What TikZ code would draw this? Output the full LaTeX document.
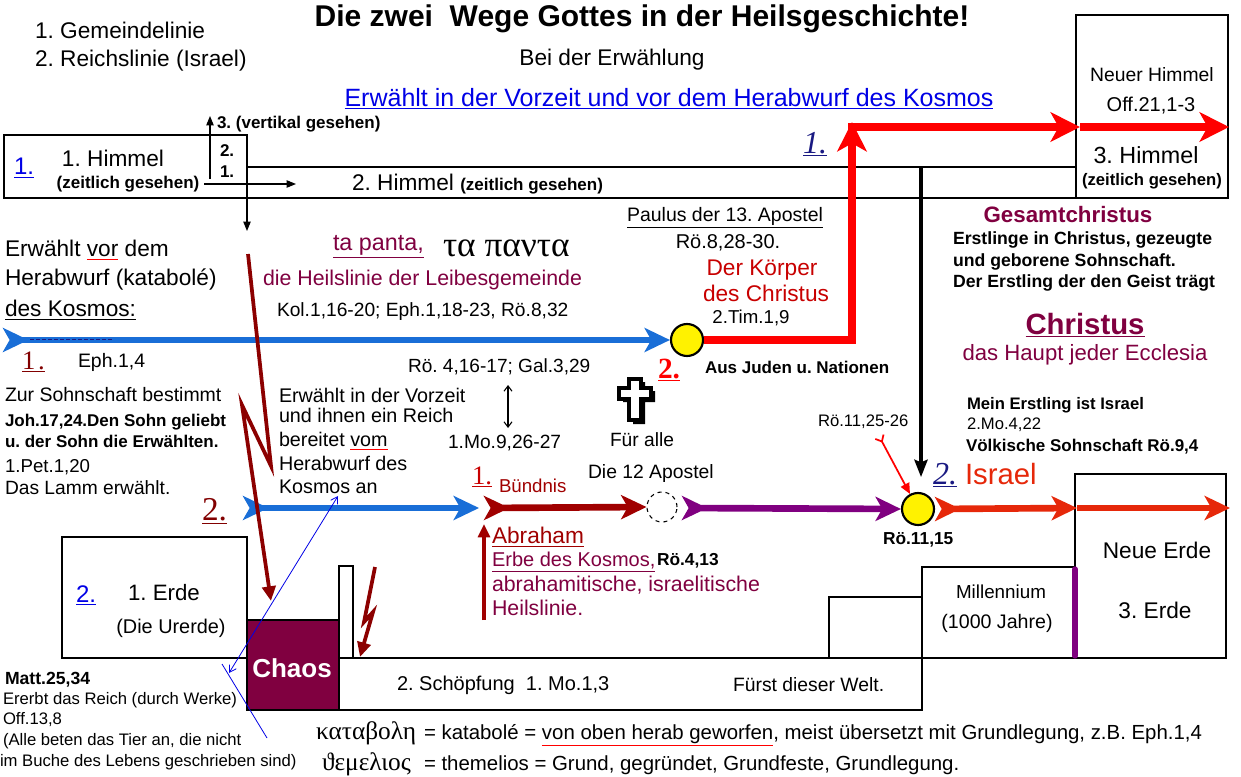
\documentclass[tikz,border=0pt]{standalone}
\usepackage{fontspec}
\setmainfont{Liberation Sans}
\newfontfamily\grk{Liberation Serif}
\usetikzlibrary{arrows.meta}
\definecolor{thickblue}{RGB}{25,110,215}
\definecolor{linkblue}{RGB}{0,0,230}
\definecolor{numblue}{RGB}{25,25,130}
\definecolor{gred}{RGB}{255,0,0}
\definecolor{dred}{RGB}{160,0,0}
\definecolor{ltred}{RGB}{140,0,0}
\definecolor{mymaroon}{RGB}{128,0,64}
\definecolor{purp}{RGB}{128,0,128}
\definecolor{isred}{RGB}{230,40,10}
\definecolor{kred}{RGB}{200,0,0}
\definecolor{numred}{RGB}{130,0,0}
\newcommand\fz[1]{\fontsize{#1}{#1}\selectfont}
\newcommand\redunder[1]{{\color{red}\underline{\color{black}#1}}}
\tikzset{
  BlueTip/.tip={Stealth[length=19pt,width=18pt,inset=5pt]},
  RedTip/.tip={Stealth[length=22pt,width=22pt,inset=6pt]},
}
\frenchspacing
\begin{document}
\frenchspacing
\begin{tikzpicture}[x=0.75pt,y=-0.75pt,
  tx/.style={inner sep=0pt,outer sep=0pt,anchor=west},
  tc/.style={inner sep=0pt,outer sep=0pt},
  frame/.style={draw=black,line width=1.4pt},
  lframe/.style={draw=black,line width=0.9pt},
  smalltip/.style={-{Triangle[length=7pt,width=5.5pt]}},
  thickline/.style={line width=5pt},
  bolt/.style={draw=ltred,line width=2.8pt,line join=miter,-{Triangle[length=11pt,width=10pt]}},
  circ/.style={circle,draw=black,line width=1.6pt,fill=yellow,minimum size=24pt,inner sep=0pt},
]
\useasboundingbox (0,0) rectangle (1241,777);
\fill[white] (0,0) rectangle (1241,777);

% ---------- boxes ----------
\draw[frame] (4,135) rectangle (247,198);
\draw[frame] (247,167) rectangle (1076,198);
\draw[lframe] (1076,15) rectangle (1228,198);
\draw[frame] (62,537) rectangle (247,658);
\filldraw[fill=mymaroon,draw=black,line width=1.4pt] (247,620) rectangle (339,710);
\draw[frame] (339,566) rectangle (353,658);
\draw[lframe] (339,658) rectangle (922,710);
\draw[lframe] (922,567) rectangle (1075,658);
\draw[lframe] (1075,474) rectangle (1226,658);
\draw[lframe] (829,658) -- (829,597) -- (922,597);
\draw[purp,line width=4pt,line cap=round] (1075,569) -- (1075,656);

% ---------- circles ----------
\node[circ] (c1) at (687,340) {};
\node[circ] (c2) at (918,509) {};
\node[circle,draw=black,dashed,line width=0.8pt,minimum size=22.5pt,inner sep=0pt] (dc) at (662,507) {};

% ---------- thin arrows top left ----------
\coordinate (ha1) at (204,184); \coordinate (ha2) at (296,184);
\draw[black,line width=0.8pt,smalltip] (ha1) -- (ha2);
\coordinate (va1) at (210,179); \coordinate (va2) at (210,116);
\draw[black,line width=0.8pt,smalltip] (va1) -- (va2);
\coordinate (da1) at (247,198); \coordinate (da2) at (247,231);
\draw[black,line width=0.8pt,smalltip] (da1) -- (da2);

% ---------- thick lines ----------
\coordinate (b1s) at (3,340);
\draw[thickblue,thickline,{BlueTip[reversed]}-{BlueTip}] (b1s) -- (c1.west);
\draw[numblue,line width=0.6pt,dash pattern=on 3pt off 1.5pt] (30,339) -- (112,339);

\coordinate (rc) at (852,340); \coordinate (rt) at (852,122);
\draw[gred,line width=6pt,-{RedTip}] (c1.east) -- (rc) -- (rt);
\coordinate (rh0) at (848,127); \coordinate (rh1) at (1080,127); \coordinate (rh2) at (1229,127);
\draw[gred,line width=6pt,-{RedTip}] (rh0) -- (rh1);
\draw[gred,line width=6pt,-{RedTip}] (rh1) -- (rh2);

\coordinate (b2s) at (243,508); \coordinate (b2e) at (479,508);
\draw[thickblue,thickline,{BlueTip[reversed]}-{BlueTip}] (b2s) -- (b2e);
\coordinate (d1s) at (484,508);
\draw[dred,thickline,{BlueTip[reversed]}-{BlueTip}] (d1s) -- (dc.west);
\coordinate (p1s) at (682,508);
\draw[purp,thickline,{BlueTip[reversed]}-{BlueTip}] (p1s) -- (c2.west);
\coordinate (i1) at (1077,508); \coordinate (i2) at (1230,508);
\draw[isred,thickline,{BlueTip[reversed]}-{BlueTip}] (c2.east) -- (i1);
\draw[isred,thickline,-{BlueTip}] (i1) -- (i2);

\coordinate (vk1) at (921,167); \coordinate (vk2) at (921,477);
\draw[black,line width=2.3pt,-{Stealth[length=13pt,width=10pt,inset=2pt]}] (vk1) -- (vk2);

\coordinate (rr1) at (879,436);
\draw[red,line width=1.3pt,{Straight Barb[reversed,length=4pt,width=7pt]}-{Triangle[length=8pt,width=7pt]}] (rr1) -- (c2);

% ---------- lightning ----------
\draw[bolt] (248,254) -- (271,466) -- (242,405) -- (271,601);
\draw[bolt] (375,567) -- (364,622) -- (373,612) -- (360,657);
\draw[dred,line width=2.3pt,-{Triangle[length=10pt,width=9pt]}] (484,620) -- (484,524);

% ---------- blue thin ----------
\draw[linkblue,line width=0.6pt,{Straight Barb[length=5pt,width=6pt]}-{Straight Barb[length=5pt,width=6pt]}] (229,673) -- (338,496);
\draw[linkblue,line width=0.6pt] (222,664) -- (267,738);

% ---------- double arrow ----------
\coordinate (dd1) at (508,385); \coordinate (dd2) at (508,428);
\draw[black,line width=0.8pt,{Straight Barb[length=4pt,width=6pt]}-{Straight Barb[length=4pt,width=6pt]}] (dd1) -- (dd2);

% ---------- cross ----------
\begin{scope}[shift={(635,399)}]
\fill[black] (-2,-17) -- (10,-17) -- (10,-8) -- (20,-8) -- (20,3) -- (10,3) -- (10,25) -- (-2,25) -- (-2,3) -- (-12,3) -- (-12,-8) -- (-2,-8) -- cycle;
\filldraw[fill=white,draw=black,line width=3pt] (-6,-20) -- (6,-20) -- (6,-11) -- (16,-11) -- (16,0) -- (6,0) -- (6,21) -- (-6,21) -- (-6,0) -- (-16,0) -- (-16,-11) -- (-6,-11) -- cycle;
\end{scope}

% ---------- texts: top ----------
\node[tx] (gem) at (35,30) {\fz{17}1. Gemeindelinie};
\node[tx] (reich) at (35,61) {\fz{17}2. Reichslinie (Israel)};
\node[tc] (title) at (642,19) {\fz{22.5}\bfseries Die zwei\ \ Wege Gottes in der Heilsgeschichte!};
\node[tc] (bei) at (612,60) {\fz{17}Bei der Erwählung};
\node[tc,text=linkblue] (erw) at (669,99) {\fz{18.75}\underline{Erwählt in der Vorzeit und vor dem Herabwurf des Kosmos}};

\node[tx,text=linkblue] (n1h) at (14,168) {\fz{18}\underline{1.}};
\node[tc] (h1) at (113,158) {\fz{17}1. Himmel};
\node[tc] (h1z) at (128,184) {\fz{12.75}\bfseries (zeitlich gesehen)};
\node[tx] (v3) at (217,124) {\fz{12.75}\bfseries 3. (vertikal gesehen)};
\node[tx] (v2) at (220,151) {\fz{12.75}\bfseries 2.};
\node[tx] (v1) at (220,172) {\fz{12.75}\bfseries 1.};
\node[tx] (h2) at (352,184) {\fz{17}2. Himmel {\fz{12.75}\bfseries (zeitlich gesehen)}};

\node[tc] (nh) at (1152,75) {\fz{14.5}Neuer Himmel};
\node[tc] (off) at (1151,106) {\fz{15}Off.21,1-3};
\node[tc] (h3) at (1146,155) {\fz{17.5}3. Himmel};
\node[tc] (h3z) at (1152,181) {\fz{12.5}\bfseries (zeitlich gesehen)};

% ---------- Gemeinde ----------
\node[tx,text=numblue] (g1) at (803,144) {\fz{24}\grk\itshape\underline{1.}};
\node[tc] (paul) at (725,218) {\fz{14.6}\underline{Paulus der 13. Apostel}};
\node[tc] (ro8) at (728,243) {\fz{15}Rö.8,28-30.};
\node[tc,text=kred] (kor1) at (762,270) {\fz{17}Der Körper};
\node[tc,text=kred] (kor2) at (766,293) {\fz{17}des Christus};
\node[tc] (tim) at (751,318) {\fz{14}2.Tim.1,9};
\node[tx,text=mymaroon] (tap) at (333,247) {\fz{17.5}\underline{ta panta,}};
\node[tx] (tagr) at (443,248) {\fz{26.5}\grk τα παντα};
\node[tx,text=mymaroon] (heil) at (263,280) {\fz{16}die Heilslinie der Leibesgemeinde};
\node[tx] (kol) at (277,312) {\fz{14.4}Kol.1,16-20; Eph.1,18-23, Rö.8,32};

% ---------- left ----------
\node[tx] (ev1) at (5,250) {\fz{17}Erwählt \redunder{vor} dem};
\node[tx] (ev2) at (5,280) {\fz{17}Herabwurf (katabolé)};
\node[tx] (ev3) at (5,310) {\fz{17}\underline{des Kosmos:}};
\node[tx,text=numred] (l1) at (22,362) {\fz{20}\grk\underline{1\kern2pt.}};
\node[tx] (eph) at (78,362) {\fz{14.6}Eph.1,4};
\node[tx] (zur) at (5,395) {\fz{14.6}Zur Sohnschaft bestimmt};
\node[tx] (joh1) at (5,422) {\fz{12.75}\bfseries Joh.17,24.Den Sohn geliebt};
\node[tx] (joh2) at (5,441) {\fz{12.75}\bfseries u. der Sohn die Erwählten.};
\node[tx] (pet) at (5,467) {\fz{14}1.Pet.1,20};
\node[tx] (lamm) at (5,488) {\fz{14.4}Das Lamm erwählt.};
\node[tx,text=numred] (l2) at (202,511) {\fz{25}\grk\underline{2.}};

% ---------- middle ----------
\node[tx] (ro4) at (408,367) {\fz{14.3}Rö. 4,16-17; Gal.3,29};
\node[tx] (ev4) at (279,395) {\fz{14.8}Erwählt in der Vorzeit};
\node[tx] (ev5) at (279,415) {\fz{14.8}und ihnen ein Reich};
\node[tx] (ev6) at (279,441) {\fz{14.8}bereitet \redunder{vom}};
\node[tx] (ev7) at (279,463) {\fz{14.8}Herabwurf des};
\node[tx] (ev8) at (279,487) {\fz{14.8}Kosmos an};
\node[tx] (mo9) at (448,443) {\fz{14.4}1.Mo.9,26-27};
\node[tc,text=red] (r2) at (669,370) {\fz{22}\grk\bfseries\underline{2.}};
\node[tx] (fur) at (610,440) {\fz{14.4}Für alle};
\node[tx] (aus) at (705,367) {\fz{12.75}\bfseries Aus Juden u. Nationen};
\node[tx] (apo) at (588,473) {\fz{14.5}Die 12 Apostel};
\node[tc,text=kred] (b1) at (482,477) {\fz{20}\grk\underline{1.}};
\node[tx,text=dred] (bund) at (499,486) {\fz{14}Bündnis};
\node[tx] (ro1125) at (818,422) {\fz{12.5}Rö.11,25-26};
\node[tx] (ro1115) at (883,540) {\fz{13}\bfseries Rö.11,15};
\node[tc,text=numblue] (i2n) at (945,475) {\fz{24}\grk\itshape\underline{2.}};
\node[tx,text=isred] (isr) at (965,474) {\fz{22}Israel};
\node[tx] (mein) at (967,405) {\fz{12.5}\bfseries Mein Erstling ist Israel};
\node[tx] (mo4) at (967,425) {\fz{12.5}2.Mo.4,22};
\node[tx] (volk) at (966,447) {\fz{12.75}\bfseries Völkische Sohnschaft Rö.9,4};

% ---------- right ----------
\node[tc,text=mymaroon] (gesamt) at (1068,215) {\fz{16.75}\bfseries Gesamtchristus};
\node[tx] (erst1) at (953,240) {\fz{13.25}\bfseries Erstlinge in Christus, gezeugte};
\node[tx] (erst2) at (953,262) {\fz{13.25}\bfseries und geborene Sohnschaft.};
\node[tx] (erst3) at (953,283) {\fz{13.25}\bfseries Der Erstling der den Geist trägt};
\node[tc,text=mymaroon] (chr) at (1085,325) {\fz{22}\bfseries\underline{Christus}};
\node[tc,text=mymaroon] (haupt) at (1085,355) {\fz{16.6}das Haupt jeder Ecclesia};

% ---------- Abraham ----------
\node[tx,text=dred] (abr) at (492,537) {\fz{17}\underline{Abraham}};
\node[tx,text=mymaroon] (erbe) at (492,562) {\fz{15}\underline{Erbe des Kosmos,}};
\node[tx] (ro413) at (657,561) {\fz{13}\bfseries Rö.4,13};
\node[tx,text=mymaroon] (abr2) at (492,585) {\fz{16}abrahamitische, israelitische};
\node[tx,text=mymaroon] (abr3) at (492,608) {\fz{16}Heilslinie.};

% ---------- bottom ----------
\node[tx,text=linkblue] (n2e) at (76,595) {\fz{18}\underline{2.}};
\node[tc] (e1) at (164,593) {\fz{16.7}1. Erde};
\node[tc] (ure) at (171,628) {\fz{14.9}(Die Urerde)};
\node[tc,text=white] (chaos) at (292,668) {\fz{19.5}\bfseries Chaos};
\node[tx] (schop) at (397,685) {\fz{15}2. Schöpfung\ \ 1. Mo.1,3};
\node[tx] (furst) at (733,685) {\fz{14.5}Fürst dieser Welt.};
\node[tc] (mill) at (1001,592) {\fz{14.1}Millennium};
\node[tc] (jahre) at (997,623) {\fz{14.7}(1000 Jahre)};
\node[tc] (nerde) at (1157,550) {\fz{17}Neue Erde};
\node[tc] (e3) at (1155,610) {\fz{17}3. Erde};

\node[tx] (matt) at (5,680) {\fz{13.2}\bfseries Matt.25,34};
\node[tx] (ererbt) at (3,700) {\fz{12.5}Ererbt das Reich (durch Werke)};
\node[tx] (off13) at (3,720) {\fz{12.5}Off.13,8};
\node[tx] (alle1) at (3,741) {\fz{12.5}(Alle beten das Tier an, die nicht};
\node[tx] (alle2) at (0,762) {\fz{12.5}im Buche des Lebens geschrieben sind)};

\node[tx,anchor=base west] (kata) at (316,739) {\fz{19}\grk καταβολη};
\node[tx,anchor=base west] (kata2) at (424,739) {\fz{15.3}= katabolé = \redunder{von oben herab geworfen}, meist übersetzt mit Grundlegung, z.B. Eph.1,4};
\node[tx,anchor=base west] (them) at (322,770) {\fz{19}\grk ϑεμελιος};
\node[tx,anchor=base west] (them2) at (424,770) {\fz{15.3}= themelios = Grund, gegründet, Grundfeste, Grundlegung.};
\end{tikzpicture}
\end{document}
